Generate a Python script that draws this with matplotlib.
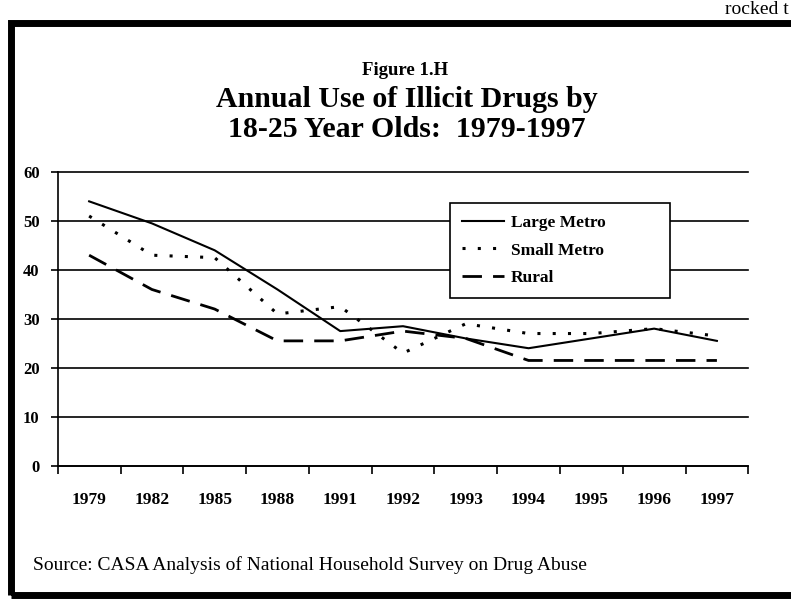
import numpy as np
import matplotlib.pyplot as plt
from matplotlib.patches import Rectangle

# Data (percent)
years = ['1979', '1982', '1985', '1988', '1991', '1992', '1993', '1994', '1995', '1996', '1997']
large_metro = [54, 49.5, 44, 36, 27.5, 28.5, 26, 24, 26, 28, 25.5]
small_metro = [51, 43, 42.5, 31, 32.5, 23, 29, 27, 27, 28, 26.5]
rural = [43, 36, 32, 25.5, 25.5, 27.5, 26, 21.5, 21.5, 21.5, 21.5]
y_ticks = [0, 10, 20, 30, 40, 50, 60]

plt.rcParams['font.family'] = ['Liberation Serif', 'DejaVu Serif']

fig = plt.figure(figsize=(7.91, 6.12), dpi=100)
ax = fig.add_axes([0.073, 0.239, 0.873, 0.480])

x = np.arange(len(years)) + 0.5

# horizontal gridlines
for v in y_ticks:
    ax.axhline(v, color='black', lw=1.2, zorder=1, clip_on=False)

ax.plot(x, large_metro, color='black', lw=1.5, ls='-', label='Large Metro', zorder=3)
ax.plot(x, small_metro, color='black', lw=2.2, ls=(0, (1, 4)), label='Small Metro', zorder=3)
ax.plot(x, rural, color='black', lw=2, ls=(0, (7, 4)), label='Rural', zorder=3)

ax.set_xlim(0, len(years))
ax.set_ylim(0, 60)
ax.set_xticks(np.arange(len(years) + 1))
ax.set_xticklabels([])
ax.set_xticks(x, minor=True)
ax.set_xticklabels(years, minor=True, fontweight='bold', fontsize=12.5)
ax.tick_params(axis='x', which='major', direction='out', length=6, width=1.2)
ax.tick_params(axis='x', which='minor', length=0, pad=19)
ax.set_yticks(y_ticks)
ax.set_yticklabels([str(v) for v in y_ticks], fontweight='bold', fontsize=12)
ax.tick_params(axis='y', direction='out', length=5, width=1.2, pad=8)

for s in ['top', 'right']:
    ax.spines[s].set_visible(False)
ax.spines['left'].set_linewidth(1.2)
ax.spines['bottom'].set_linewidth(1.2)

leg = ax.legend(loc='upper left', bbox_to_anchor=(0.568, 0.0, 0.319, 0.895),
                mode='expand', frameon=True, fancybox=False, edgecolor='black',
                framealpha=1, prop={'weight': 'bold', 'size': 12.5},
                handlelength=2.4, handletextpad=0.4, borderpad=0.7,
                labelspacing=0.65, borderaxespad=0)
leg.get_frame().set_linewidth(1.2)
leg.set_zorder(5)

# titles
fig.text(0.512, 0.884, 'Figure 1.H', ha='center', va='center', fontsize=13.5, fontweight='bold')
fig.text(0.514, 0.838, 'Annual Use of Illicit Drugs by', ha='center', va='center',
         fontsize=21.5, fontweight='bold')
fig.text(0.514, 0.789, '18-25 Year Olds:  1979-1997', ha='center', va='center',
         fontsize=21.5, fontweight='bold')

fig.text(0.042, 0.077, 'Source: CASA Analysis of National Household Survey on Drug Abuse',
         ha='left', va='center', fontsize=14)

# page text cut at top right of the scan
fig.text(0.997, 0.985, 'rocked t', ha='right', va='center', fontsize=14)

# thick page frame
fig.patches.append(Rectangle((0.014, 0.027), 1.2, 0.935, fill=False, lw=5,
                             edgecolor='black', transform=fig.transFigure, figure=fig))

fig.savefig('out.png', dpi=100)
